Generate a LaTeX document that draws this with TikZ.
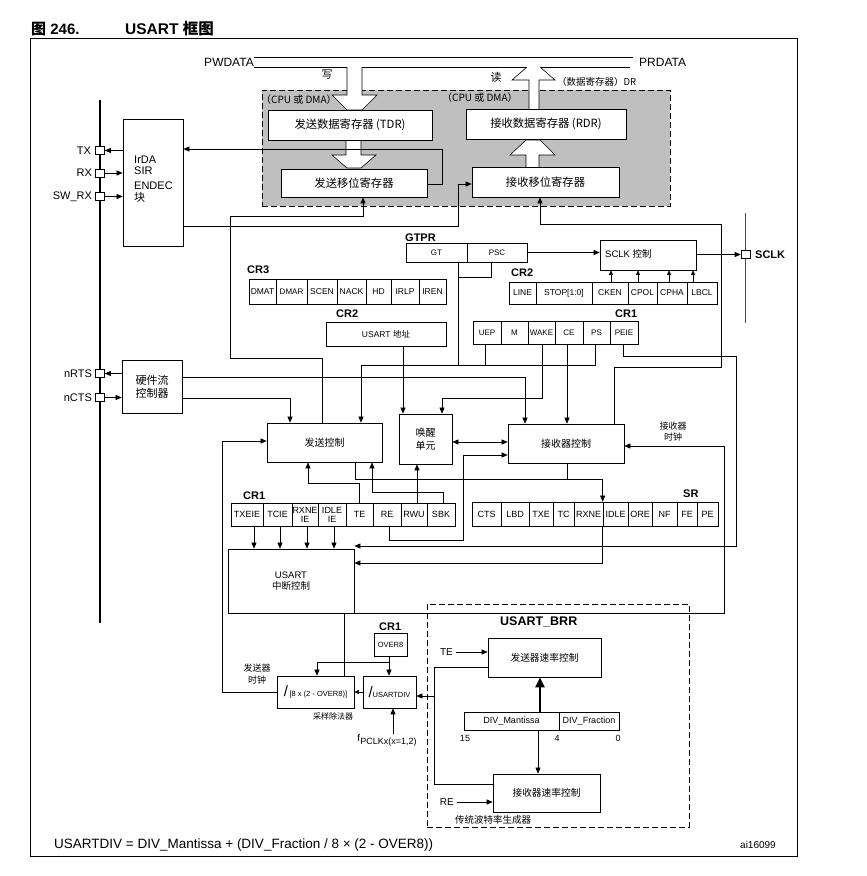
\documentclass[tikz,border=0pt]{standalone}
\usepackage{fontspec}
\setmainfont{Liberation Sans}
\newfontfamily\cjk{Noto Sans CJK SC}
\usetikzlibrary{arrows.meta,positioning}
\newcommand\fs[1]{\fontsize{#1}{#1}\selectfont}
\newcommand\zh[1]{{\cjk #1}}
\newcommand\rbox[7][]{\node[box,minimum width={(#5)-(#3)},minimum height={(#6)-(#4)},#1] (#2) at ({((#3)+(#5))/2},{((#4)+(#6))/2}) {#7};}
\begin{document}
\begin{tikzpicture}[x=1pt,y=-1pt,
  box/.style={draw,line width=0.7pt,fill=white,inner sep=0pt,align=center,font=\fs{9}},
  reg/.style={box,font=\fs{8.5}},
  wire/.style={line width=0.6pt},
  arr/.style={wire,-{Triangle[length=6pt,width=5pt]}},
  sarr/.style={wire,-{Triangle[length=4.5pt,width=4pt]}},
  pin/.style={draw,line width=0.6pt,fill=white,minimum width=9pt,minimum height=8pt,inner sep=0pt},
  hdr/.style={inner sep=0pt,font=\bfseries\fs{11}},
  txt/.style={inner sep=0pt,font=\fs{10}},
  dashbox/.style={line width=0.7pt,dash pattern=on 6pt off 3pt},
]
\useasboundingbox (0,0) rectangle (867,876);
% title
\node[anchor=base west,inner sep=0pt,font=\bfseries\fs{15}] (t1) at (31,34) {\zh{图} 246.};
\node[anchor=base west,inner sep=0pt,font=\bfseries\fs{15.5}] (t2) at (125,34) {USART \zh{框图}};
\draw[line width=0.8pt] (30,38) rectangle (797,856);

% data register area
\node[draw,dashbox,fill=gray!50,minimum width=408,minimum height=116,inner sep=0pt] (dr) at (466,148) {};
\node[txt,font=\fs{12},anchor=east] (pwd) at (254,62) {PWDATA};
\node[txt,font=\fs{12},anchor=west] (prd) at (639,62) {PRDATA};
\draw[wire] (pwd.east |- 0,57) -- (633,57);
\draw[wire] (pwd.east |- 0,67) -- (347,67);
\draw[wire] (362,67) -- (527,67);
\draw[wire] (540,67) -- (630,67);
% write arrow
\filldraw[wire,fill=white] (347,67) -- (347,95) -- (332,95) -- (347,110) -- (362,110) -- (377,95) -- (362,95) -- (362,67);
% read arrow
\fill[white] (529,109) -- (529,80) -- (512,80) -- (527,67) -- (540,67) -- (555,80) -- (539,80) -- (539,109) -- cycle;
\draw[wire] (529,109) -- (529,80) -- (512,80) -- (527,67);
\draw[wire] (540,67) -- (555,80) -- (539,80) -- (539,109);
% TDR -> TSR
\filldraw[wire,fill=white] (346,140) -- (346,155) -- (332,155) -- (347,168) -- (361,168) -- (376,155) -- (361,155) -- (361,140);
% RSR -> RDR
\filldraw[wire,fill=white] (526,167) -- (526,155) -- (510,155) -- (526,140) -- (540,140) -- (555,155) -- (539,155) -- (539,167);
\node[txt,font=\cjk\fs{11}] (wr) at (327,75) {写};
\node[txt,font=\cjk\fs{11}] (rd) at (496,77) {读};
\node[txt,font=\cjk\fs{9.5},anchor=west] (drl) at (557,82) {（数据寄存器）DR};
\node[txt,font=\cjk\fs{10},anchor=west] (cpu1) at (261,100) {（CPU 或 DMA）};
\node[txt,font=\cjk\fs{10},anchor=west] (cpu2) at (442,98) {（CPU 或 DMA）};

\rbox[font=\cjk\fs{11.3}]{tdr}{268}{110}{432}{140}{发送数据寄存器 (TDR)}
\rbox[font=\cjk\fs{11.3}]{rdr}{466}{109}{626}{139}{接收数据寄存器 (RDR)}
\rbox[font=\cjk\fs{11.3}]{tsr}{281}{169}{427}{197}{发送移位寄存器}
\rbox[font=\cjk\fs{11.3}]{rsr}{472}{167}{619}{197}{接收移位寄存器}

% left bus and pins
\draw[line width=1.6pt] (100,100) -- (100,623);
\node[pin] (tx) at (100,150.5) {};
\node[pin] (rx) at (100,173) {};
\node[pin] (swrx) at (100,196.5) {};
\node[pin] (nrts) at (100,373.5) {};
\node[pin] (ncts) at (100,397.5) {};
\node[txt,font=\fs{11},left=4pt of tx] (txl) {TX};
\node[txt,font=\fs{11},left=3pt of rx] (rxl) {RX};
\node[txt,font=\fs{11},left=3pt of swrx] (swrxl) {SW\_RX};
\node[txt,font=\fs{11},left=3pt of nrts] (nrtsl) {nRTS};
\node[txt,font=\fs{11},left=3pt of ncts] (nctsl) {nCTS};

\rbox{irda}{123}{119}{183}{246}{}
\node[txt,font=\fs{11},align=left,anchor=north west] (irdat) at (134,156) {IrDA\\[0pt]SIR\\[4pt]ENDEC\\[1pt]\zh{块}};
\rbox[font=\cjk\fs{11}]{hwfc}{122}{360}{182}{413}{硬件流\\[2pt]控制器}

\draw[arr] (irda.west |- tx) -- (tx.east);
\draw[arr] (rx.east) -- (irda.west |- rx);
\draw[arr] (swrx.east) -- (irda.west |- swrx);
\draw[arr] (hwfc.west |- nrts) -- (nrts.east);
\draw[arr] (ncts.east) -- (hwfc.west |- ncts);

% TX / RX shift register connections
\draw[arr] (tsr.east |- 0,184) -- (442,184) -- (442,149) -- (irda.east |- 0,149);
\draw[arr] (irda.east |- 0,226) -| (458,184) -- (rsr.west |- 0,184);

% GTPR
\node[hdr,anchor=west] (gtprl) at (405,238) {GTPR};
\rbox[font=\fs{8}]{gt}{406}{243}{467}{262}{GT}
\rbox[font=\fs{8}]{psc}{467}{243}{527}{262}{PSC}
% SCLK
\rbox{sclkc}{600}{240}{696}{270}{}
\node[txt,font=\fs{9.5},anchor=west] (sclkt) at (605,254) {SCLK \zh{控制}};
\draw[line width=0.5pt,black!70] (745.5,213) -- (745.5,323);
\node[pin] (sclk) at (745.5,254.5) {};
\node[hdr,anchor=west] (sclkl) at (755,255) {SCLK};
\draw[arr] (psc.east) -- (sclkc.west |- psc.east);
\draw[arr] (sclkc.east |- sclk) -- (sclk.west);

% CR3
\node[hdr,anchor=west] (cr3l) at (247,270) {CR3};
\rbox[reg]{dmat}{249}{279}{276}{304}{DMAT}
\rbox[reg,font=\fs{8}]{dmar}{276}{279}{307}{304}{DMAR}
\rbox[reg]{scen}{307}{279}{337}{304}{SCEN}
\rbox[reg]{nack}{337}{279}{366}{304}{NACK}
\rbox[reg]{hd}{366}{279}{391}{304}{HD}
\rbox[reg]{irlp}{391}{279}{419}{304}{IRLP}
\rbox[reg]{iren}{419}{279}{446}{304}{IREN}

% CR2 right
\node[hdr,anchor=west] (cr2al) at (511,273) {CR2};
\rbox[reg]{line}{509}{282}{536}{304}{LINE}
\rbox[reg]{stop}{536}{282}{592}{304}{STOP[1:0]}
\rbox[reg]{cken}{592}{282}{628}{304}{CKEN}
\rbox[reg]{cpol}{628}{282}{657}{304}{CPOL}
\rbox[reg]{cpha}{657}{282}{687}{304}{CPHA}
\rbox[reg]{lbcl}{687}{282}{717}{304}{LBCL}
\draw[sarr] (cken.north -| 611,0) -- (sclkc.south -| 611,0);
\draw[sarr] (cpol.north -| 638,0) -- (sclkc.south -| 638,0);
\draw[sarr] (cpha.north -| 669,0) -- (sclkc.south -| 669,0);
\draw[sarr] (lbcl.north -| 693,0) -- (sclkc.south -| 693,0);

% CR2 address
\node[hdr,anchor=west] (cr2bl) at (336,314) {CR2};
\rbox[font=\fs{8.5}]{addr}{326}{322}{446}{346}{USART \zh{地址}}

% CR1 upper
\node[hdr,anchor=west] (cr1al) at (615,314) {CR1};
\rbox[reg,font=\fs{8}]{uep}{473}{321}{501}{344}{UEP}
\rbox[reg,font=\fs{8}]{mm}{501}{321}{528}{344}{M}
\rbox[reg,font=\fs{8}]{wk}{528}{321}{555}{344}{WAKE}
\rbox[reg,font=\fs{8}]{ce}{555}{321}{583}{344}{CE}
\rbox[reg,font=\fs{8}]{ps}{583}{321}{610}{344}{PS}
\rbox[reg,font=\fs{8}]{peie}{610}{321}{638}{344}{PEIE}

% control blocks
\rbox[font=\cjk\fs{10}]{txc}{267}{423}{382}{462}{发送控制}
\rbox[font=\cjk\fs{10}]{wake}{399}{414}{452}{464}{唤醒\\[3pt]单元}
\rbox[font=\cjk\fs{10}]{rxc}{508}{424}{624}{463}{接收器控制}
\node[txt,font=\cjk\fs{9},align=center] (rxclk) at (673,432) {接收器\\[2pt]时钟};

% CR1 lower
\node[hdr,anchor=west] (cr1bl) at (243,496) {CR1};
\rbox[reg,font=\fs{9}]{txeie}{231}{503}{263}{526}{TXEIE}
\rbox[reg,font=\fs{9}]{tcie}{263}{503}{292}{526}{TCIE}
\rbox[reg,font=\fs{9}]{rxneie}{292}{503}{318}{526}{RXNE\\IE}
\rbox[reg,font=\fs{9}]{idleie}{318}{503}{346}{526}{IDLE\\IE}
\rbox[reg,font=\fs{9}]{te}{346}{503}{373}{526}{TE}
\rbox[reg,font=\fs{9}]{re}{373}{503}{401}{526}{RE}
\rbox[reg,font=\fs{9}]{rwu}{401}{503}{427}{526}{RWU}
\rbox[reg,font=\fs{9}]{sbk}{427}{503}{455}{526}{SBK}

% SR
\node[hdr,anchor=west] (srl) at (683,494) {SR};
\rbox[reg,font=\fs{9}]{cts}{472}{502}{501}{526}{CTS}
\rbox[reg,font=\fs{9}]{lbd}{501}{502}{529}{526}{LBD}
\rbox[reg,font=\fs{9}]{txe}{529}{502}{553}{526}{TXE}
\rbox[reg,font=\fs{9}]{tc}{553}{502}{574}{526}{TC}
\rbox[reg,font=\fs{9}]{rxne}{574}{502}{603}{526}{RXNE}
\rbox[reg,font=\fs{9}]{idle}{603}{502}{628}{526}{IDLE}
\rbox[reg,font=\fs{9}]{ore}{628}{502}{652}{526}{ORE}
\rbox[reg,font=\fs{9}]{nf}{652}{502}{677}{526}{NF}
\rbox[reg,font=\fs{9}]{fe}{677}{502}{697}{526}{FE}
\rbox[reg,font=\fs{9}]{pe}{697}{502}{718}{526}{PE}

% interrupt control
\rbox[font=\fs{9.5}]{intc}{228}{549}{354}{613}{USART\\[2pt]\zh{中断控制}}

% baud rate
\node[hdr,anchor=west] (cr1cl) at (379,627) {CR1};
\rbox[font=\fs{7.5}]{over8}{374}{633}{407}{656}{OVER8}
\rbox{sdiv}{277}{676}{354}{708}{{\fs{15}/}\,{\fs{7.5}[8 x (2 - OVER8)]}}
\rbox{udiv}{363}{676}{416}{708}{{\fs{15}/}{\fs{7.5}USARTDIV}}
\node[txt,font=\cjk\fs{8}] (sdivl) at (333,716) {采样除法器};
\node[txt,font=\cjk\fs{9},align=center] (txclk) at (257,674) {发送器\\[3pt]时钟};
\node[txt,font=\fs{10},anchor=north] (fpclk) at (387,734) {f\raisebox{-3pt}{\fs{9}PCLKx(x=1,2)}};

\node[draw,dashbox,minimum width=262,minimum height=223,inner sep=0pt] (brr) at (558,715.5) {};
\node[hdr,font=\bfseries\fs{12.5},anchor=west] (brrl) at (500,622) {USART\_BRR};
\rbox[font=\cjk\fs{9.7}]{txrate}{488}{638}{601}{677}{发送器速率控制}
\rbox[font=\cjk\fs{9.7}]{rxrate}{493}{774}{600}{812}{接收器速率控制}
\rbox[font=\fs{9}]{dm}{464}{712}{559}{730}{DIV\_Mantissa}
\rbox[font=\fs{9}]{dfr}{559}{712}{619}{730}{DIV\_Fraction}
\node[txt,font=\fs{9}] (n15) at (465,738) {15};
\node[txt,font=\fs{9}] (n4) at (557,738) {4};
\node[txt,font=\fs{9}] (n0) at (618,738) {0};
\node[txt,font=\fs{10},anchor=east] (tel) at (453,652) {TE};
\node[txt,font=\fs{10},anchor=east] (rel) at (454,802) {RE};
\node[txt,font=\cjk\fs{9.5},anchor=west] (brrg) at (455,820) {传统波特率生成器};

% formula
\node[txt,font=\fs{13.5},anchor=west] (formula) at (54,845) {USARTDIV = DIV\_Mantissa + (DIV\_Fraction / 8 × (2 - OVER8))};
\node[txt,font=\fs{10},anchor=east] (code) at (776,845) {ai16099};

% ---------- connectors ----------
\draw[arr] (txc.north -| 322,0) |- (230,358) |- (363,216) -- (tsr.south -| 363,0);
\draw[arr] (rxc.north -| 614,0) |- (721,367) |- (540,224) -- (rsr.south -| 540,0);
\draw[wire] (gt.south -| 458,0) -- (458,365);
\draw[wire] (psc.south -| 491,0) |- (458,277);
\draw[arr] (ps.south -| 595,0) |- (361,365) -- (txc.north -| 361,0);
\draw[wire] (uep.south -| 485,0) -- (485,365);
\draw[arr] (ce.south -| 567,0) -- (rxc.north -| 567,0);
\draw[arr] (addr.south -| 403,0) -- (wake.north -| 403,0);
\draw[arr] (wk.south -| 542,0) |- (442,398) -- (wake.north -| 442,0);
\draw[arr] (hwfc.east |- 0,377) -| (rxc.north -| 525,0);
\draw[arr] (hwfc.east |- 0,398) -| (txc.north -| 290,0);
\draw[arr] (sdiv.west) -| (222,441) -- (txc.west |- 0,441);
\draw[arr] (sdiv.north -| 344,0) |- (724,613) |- (rxc.east |- 0,446);
\draw[wire,{Triangle[length=6pt,width=5pt]}-{Triangle[length=6pt,width=5pt]}] (wake.east |- 0,442) -- (rxc.west |- 0,442);
\draw[arr] (re.south -| 389,0) |- (463,540) |- (rxc.west |- 0,455);
\draw[arr] (txc.south -| 355,0) |- (idle.north west |- 0,479) -- (idle.north west);
\draw[wire] (rxc.south -| 567,0) -- (567,479);
\draw[arr] (idle.south west) |- (intc.east |- 0,563);
\draw[arr] (peie.south -| 623,0) |- (736,356) |- (intc.east |- 0,546);
\draw[arr] (txeie.south -| 254,0) -- (intc.north -| 254,0);
\draw[arr] (tcie.south -| 280,0) -- (intc.north -| 280,0);
\draw[arr] (rxneie.south -| 307,0) -- (intc.north -| 307,0);
\draw[arr] (idleie.south -| 334,0) -- (intc.north -| 334,0);
\draw[arr] (te.north -| 359,0) |- (308,483) -- (txc.south -| 308,0);
\draw[arr] (sbk.north -| 443,0) |- (372,492) -- (txc.south -| 372,0);
\draw[arr] (rwu.north -| 417,0) -- (wake.south -| 417,0);
\coordinate (oj) at (389,662);
\draw[arr] (over8.south -| 389,0) -- (udiv.north -| 389,0);
\draw[arr] (oj) -| (sdiv.north -| 317,0);
\draw[sarr] (udiv.west) -- (sdiv.east);
\coordinate (bj) at (434,696);
\draw[wire] (txrate.west |- 0,667) -| (434,784) -- (rxrate.west |- 0,784);
\draw[arr] (bj) -- (udiv.east |- bj);
\draw[arr] (tel.east) ++(3,0) -- (txrate.west |- tel.east);
\draw[arr] (rel.east) ++(3,0) -- (rxrate.west |- rel.east);
\draw[line width=2.2pt,-{Triangle[length=10pt,width=9pt]}] (dm.north -| 540,0) -- (txrate.south -| 540,0);
\draw[arr] (dm.south -| 538,0) -- (rxrate.north -| 538,0);
\draw[arr] (fpclk.north -| 393,0) -- (udiv.south -| 393,0);
\end{tikzpicture}
\end{document}
